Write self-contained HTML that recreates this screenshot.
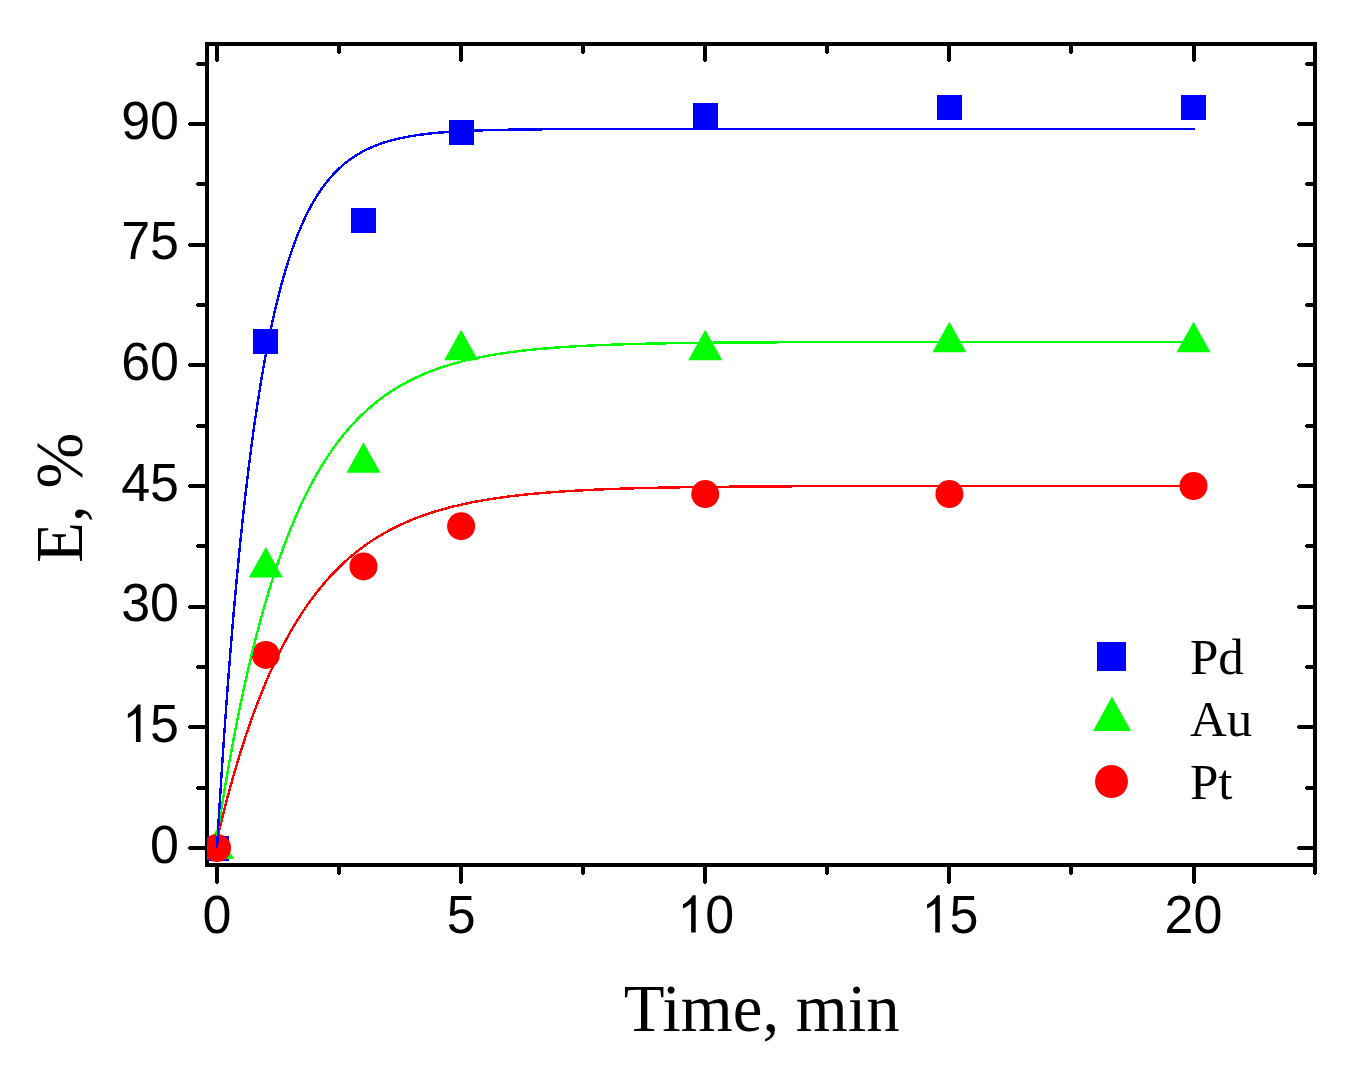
<!DOCTYPE html><html><head><meta charset="utf-8"><title>E vs Time</title><style>html,body{margin:0;padding:0;background:#fff;overflow:hidden}svg{display:block}</style></head><body>
<svg width="1370" height="1089" viewBox="0 0 1370 1089">
<rect width="1370" height="1089" fill="#fff"/>
<defs><clipPath id="c"><rect x="207" y="44" width="1108" height="821"/></clipPath></defs>
<g fill="#000">
<rect x="205" y="42" width="1112" height="4"/>
<rect x="205" y="863" width="1112" height="4"/>
<rect x="205" y="42" width="4" height="825"/>
<rect x="1313" y="42" width="4" height="825"/>
<rect x="215" y="865" width="4" height="18"/><rect x="216" y="883" width="2" height="1"/>
<rect x="215" y="44" width="4" height="17"/><rect x="216" y="61" width="2" height="1"/>
<rect x="459" y="865" width="4" height="18"/><rect x="460" y="883" width="2" height="1"/>
<rect x="459" y="44" width="4" height="17"/><rect x="460" y="61" width="2" height="1"/>
<rect x="703" y="865" width="4" height="18"/><rect x="704" y="883" width="2" height="1"/>
<rect x="703" y="44" width="4" height="17"/><rect x="704" y="61" width="2" height="1"/>
<rect x="947" y="865" width="4" height="18"/><rect x="948" y="883" width="2" height="1"/>
<rect x="947" y="44" width="4" height="17"/><rect x="948" y="61" width="2" height="1"/>
<rect x="1192" y="865" width="4" height="18"/><rect x="1193" y="883" width="2" height="1"/>
<rect x="1192" y="44" width="4" height="17"/><rect x="1193" y="61" width="2" height="1"/>
<rect x="337" y="865" width="4" height="9"/><rect x="338" y="874" width="2" height="1"/>
<rect x="337" y="44" width="4" height="9"/><rect x="338" y="53" width="2" height="1"/>
<rect x="581" y="865" width="4" height="9"/><rect x="582" y="874" width="2" height="1"/>
<rect x="581" y="44" width="4" height="9"/><rect x="582" y="53" width="2" height="1"/>
<rect x="825" y="865" width="4" height="9"/><rect x="826" y="874" width="2" height="1"/>
<rect x="825" y="44" width="4" height="9"/><rect x="826" y="53" width="2" height="1"/>
<rect x="1069" y="865" width="4" height="9"/><rect x="1070" y="874" width="2" height="1"/>
<rect x="1069" y="44" width="4" height="9"/><rect x="1070" y="53" width="2" height="1"/>
<rect x="1313" y="865" width="4" height="9"/><rect x="1314" y="874" width="2" height="1"/>
<rect x="1313" y="44" width="4" height="9"/><rect x="1314" y="53" width="2" height="1"/>
<rect x="189" y="846" width="18" height="4"/><rect x="188" y="847" width="1" height="2"/>
<rect x="1298" y="846" width="17" height="4"/><rect x="1297" y="847" width="1" height="2"/>
<rect x="189" y="725" width="18" height="4"/><rect x="188" y="726" width="1" height="2"/>
<rect x="1298" y="725" width="17" height="4"/><rect x="1297" y="726" width="1" height="2"/>
<rect x="189" y="605" width="18" height="4"/><rect x="188" y="606" width="1" height="2"/>
<rect x="1298" y="605" width="17" height="4"/><rect x="1297" y="606" width="1" height="2"/>
<rect x="189" y="484" width="18" height="4"/><rect x="188" y="485" width="1" height="2"/>
<rect x="1298" y="484" width="17" height="4"/><rect x="1297" y="485" width="1" height="2"/>
<rect x="189" y="363" width="18" height="4"/><rect x="188" y="364" width="1" height="2"/>
<rect x="1298" y="363" width="17" height="4"/><rect x="1297" y="364" width="1" height="2"/>
<rect x="189" y="243" width="18" height="4"/><rect x="188" y="244" width="1" height="2"/>
<rect x="1298" y="243" width="17" height="4"/><rect x="1297" y="244" width="1" height="2"/>
<rect x="189" y="122" width="18" height="4"/><rect x="188" y="123" width="1" height="2"/>
<rect x="1298" y="122" width="17" height="4"/><rect x="1297" y="123" width="1" height="2"/>
<rect x="197" y="786" width="10" height="4"/><rect x="196" y="787" width="1" height="2"/>
<rect x="1306" y="786" width="9" height="4"/><rect x="1305" y="787" width="1" height="2"/>
<rect x="197" y="665" width="10" height="4"/><rect x="196" y="666" width="1" height="2"/>
<rect x="1306" y="665" width="9" height="4"/><rect x="1305" y="666" width="1" height="2"/>
<rect x="197" y="544" width="10" height="4"/><rect x="196" y="545" width="1" height="2"/>
<rect x="1306" y="544" width="9" height="4"/><rect x="1305" y="545" width="1" height="2"/>
<rect x="197" y="424" width="10" height="4"/><rect x="196" y="425" width="1" height="2"/>
<rect x="1306" y="424" width="9" height="4"/><rect x="1305" y="425" width="1" height="2"/>
<rect x="197" y="303" width="10" height="4"/><rect x="196" y="304" width="1" height="2"/>
<rect x="1306" y="303" width="9" height="4"/><rect x="1305" y="304" width="1" height="2"/>
<rect x="197" y="182" width="10" height="4"/><rect x="196" y="183" width="1" height="2"/>
<rect x="1306" y="182" width="9" height="4"/><rect x="1305" y="183" width="1" height="2"/>
<rect x="197" y="62" width="10" height="4"/><rect x="196" y="63" width="1" height="2"/>
<rect x="1306" y="62" width="9" height="4"/><rect x="1305" y="63" width="1" height="2"/>
</g>
<g clip-path="url(#c)">
<rect x="204" y="836" width="25" height="25" fill="#0000ff"/>
<rect x="253" y="329" width="25" height="25" fill="#0000ff"/>
<rect x="351" y="208" width="25" height="25" fill="#0000ff"/>
<rect x="449" y="120" width="25" height="25" fill="#0000ff"/>
<rect x="693" y="103" width="25" height="25" fill="#0000ff"/>
<rect x="937" y="95" width="25" height="25" fill="#0000ff"/>
<rect x="1181" y="95" width="25" height="25" fill="#0000ff"/>
<polygon points="217.00,828.50 234.00,859.00 200.00,859.00" fill="#00ff00"/>
<polygon points="265.82,546.95 282.82,577.45 248.82,577.45" fill="#00ff00"/>
<polygon points="363.48,442.37 380.48,472.87 346.48,472.87" fill="#00ff00"/>
<polygon points="461.12,329.75 478.12,360.25 444.12,360.25" fill="#00ff00"/>
<polygon points="705.25,329.75 722.25,360.25 688.25,360.25" fill="#00ff00"/>
<polygon points="949.38,321.70 966.38,352.20 932.38,352.20" fill="#00ff00"/>
<polygon points="1193.50,321.70 1210.50,352.20 1176.50,352.20" fill="#00ff00"/>
<circle cx="217.00" cy="848.00" r="14" fill="#ff0000"/>
<circle cx="265.82" cy="654.93" r="14" fill="#ff0000"/>
<circle cx="363.48" cy="566.45" r="14" fill="#ff0000"/>
<circle cx="461.12" cy="526.22" r="14" fill="#ff0000"/>
<circle cx="705.25" cy="494.05" r="14" fill="#ff0000"/>
<circle cx="949.38" cy="494.05" r="14" fill="#ff0000"/>
<circle cx="1193.50" cy="486.00" r="14" fill="#ff0000"/>
</g>
<g clip-path="url(#c)" fill="none" stroke-width="2.4" stroke-linejoin="round" shape-rendering="crispEdges">
<polyline stroke="#ff0000" points="217.00,839.35 219.44,829.10 221.89,819.15 224.33,809.49 226.78,800.11 229.22,791.00 231.67,782.15 234.11,773.56 236.56,765.22 239.00,757.12 241.45,749.26 243.89,741.62 246.34,734.21 248.78,727.01 251.23,720.02 253.67,713.23 256.12,706.64 258.56,700.24 261.01,694.03 263.45,687.99 265.90,682.13 268.34,676.44 270.79,670.92 273.23,665.56 275.68,660.35 278.12,655.29 280.57,650.38 283.01,645.61 285.46,640.98 287.90,636.49 290.35,632.12 292.79,627.88 295.24,623.77 297.68,619.77 300.13,615.89 302.57,612.12 305.02,608.46 307.46,604.91 309.91,601.46 312.35,598.11 314.80,594.86 317.24,591.70 319.69,588.64 322.13,585.66 324.58,582.77 327.02,579.96 329.47,577.23 331.91,574.59 334.36,572.02 336.80,569.52 339.25,567.10 341.69,564.74 344.14,562.46 346.58,560.24 349.03,558.09 351.47,556.00 353.92,553.96 356.36,551.99 358.80,550.08 361.25,548.22 363.69,546.41 366.14,544.66 368.58,542.96 371.03,541.30 373.47,539.70 375.92,538.14 378.36,536.63 380.81,535.16 383.25,533.73 385.70,532.35 388.14,531.00 390.59,529.70 393.03,528.43 395.48,527.20 397.92,526.00 400.37,524.84 402.81,523.71 405.26,522.62 407.70,521.55 410.15,520.52 412.59,519.52 415.04,518.55 417.48,517.60 419.93,516.68 422.37,515.79 424.82,514.93 427.26,514.09 429.71,513.27 432.15,512.48 434.60,511.71 437.04,510.96 439.49,510.24 441.93,509.53 444.38,508.85 446.82,508.19 449.27,507.54 451.71,506.92 454.16,506.31 456.60,505.72 459.05,505.15 461.49,504.59 463.94,504.05 466.38,503.53 468.83,503.02 471.27,502.52 473.72,502.04 476.16,501.57 478.61,501.12 481.05,500.68 483.50,500.26 485.94,499.84 488.39,499.44 490.83,499.05 493.28,498.67 495.72,498.30 498.16,497.94 500.61,497.59 503.05,497.26 505.50,496.93 507.94,496.61 510.39,496.30 512.83,496.00 515.28,495.71 517.72,495.43 520.17,495.15 522.61,494.89 525.06,494.63 527.50,494.38 529.95,494.13 532.39,493.90 534.84,493.67 537.28,493.44 539.73,493.23 542.17,493.02 544.62,492.81 547.06,492.61 549.51,492.42 551.95,492.23 554.40,492.05 556.84,491.87 559.29,491.70 561.73,491.54 564.18,491.37 566.62,491.22 569.07,491.06 571.51,490.92 573.96,490.77 576.40,490.63 578.85,490.50 581.29,490.37 583.74,490.24 586.18,490.11 588.63,489.99 591.07,489.88 593.52,489.76 595.96,489.65 598.41,489.55 600.85,489.44 603.30,489.34 605.74,489.24 608.19,489.15 610.63,489.06 613.08,488.97 615.52,488.88 617.97,488.79 620.41,488.71 622.86,488.63 625.30,488.56 627.75,488.48 630.19,488.41 632.64,488.34 635.08,488.27 637.52,488.20 639.97,488.14 642.41,488.07 644.86,488.01 647.30,487.95 649.75,487.89 652.19,487.84 654.64,487.78 657.08,487.73 659.53,487.68 661.97,487.63 664.42,487.58 666.86,487.53 669.31,487.49 671.75,487.44 674.20,487.40 676.64,487.36 679.09,487.32 681.53,487.28 683.98,487.24 686.42,487.20 688.87,487.17 691.31,487.13 693.76,487.10 696.20,487.07 698.65,487.03 701.09,487.00 703.54,486.97 705.98,486.94 708.43,486.92 710.87,486.89 713.32,486.86 715.76,486.83 718.21,486.81 720.65,486.78 723.10,486.76 725.54,486.74 727.99,486.72 730.43,486.69 732.88,486.67 735.32,486.65 737.77,486.63 740.21,486.61 742.66,486.59 745.10,486.57 747.55,486.56 749.99,486.54 752.44,486.52 754.88,486.51 757.33,486.49 759.77,486.48 762.22,486.46 764.66,486.45 767.11,486.43 769.55,486.42 771.99,486.41 774.44,486.39 776.88,486.38 779.33,486.37 781.77,486.36 784.22,486.34 786.66,486.33 789.11,486.32 791.55,486.31 794.00,486.30 796.44,486.29 798.89,486.28 801.33,486.27 803.78,486.26 806.22,486.26 808.67,486.25 811.11,486.24 813.56,486.23 816.00,486.22 818.45,486.22 820.89,486.21 823.34,486.20 825.78,486.19 828.23,486.19 830.67,486.18 833.12,486.17 835.56,486.17 838.01,486.16 840.45,486.16 842.90,486.15 845.34,486.15 847.79,486.14 850.23,486.13 852.68,486.13 855.12,486.12 857.57,486.12 860.01,486.12 862.46,486.11 864.90,486.11 867.35,486.10 869.79,486.10 872.24,486.09 874.68,486.09 877.13,486.09 879.57,486.08 882.02,486.08 884.46,486.08 886.91,486.07 889.35,486.07 891.80,486.07 894.24,486.06 896.69,486.06 899.13,486.06 901.58,486.06 904.02,486.05 906.47,486.05 908.91,486.05 911.35,486.04 913.80,486.04 916.24,486.04 918.69,486.04 921.13,486.04 923.58,486.03 926.02,486.03 928.47,486.03 930.91,486.03 933.36,486.03 935.80,486.02 938.25,486.02 940.69,486.02 943.14,486.02 945.58,486.02 948.03,486.02 950.47,486.01 952.92,486.01 955.36,486.01 957.81,486.01 960.25,486.01 962.70,486.01 965.14,486.01 967.59,486.00 970.03,486.00 972.48,486.00 974.92,486.00 977.37,486.00 979.81,486.00 982.26,486.00 984.70,486.00 987.15,486.00 989.59,485.99 992.04,485.99 994.48,485.99 996.93,485.99 999.37,485.99 1001.82,485.99 1004.26,485.99 1006.71,485.99 1009.15,485.99 1011.60,485.99 1014.04,485.99 1016.49,485.99 1018.93,485.98 1021.38,485.98 1023.82,485.98 1026.27,485.98 1028.71,485.98 1031.16,485.98 1033.60,485.98 1036.05,485.98 1038.49,485.98 1040.94,485.98 1043.38,485.98 1045.83,485.98 1048.27,485.98 1050.71,485.98 1053.16,485.98 1055.60,485.98 1058.05,485.98 1060.49,485.98 1062.94,485.98 1065.38,485.97 1067.83,485.97 1070.27,485.97 1072.72,485.97 1075.16,485.97 1077.61,485.97 1080.05,485.97 1082.50,485.97 1084.94,485.97 1087.39,485.97 1089.83,485.97 1092.28,485.97 1094.72,485.97 1097.17,485.97 1099.61,485.97 1102.06,485.97 1104.50,485.97 1106.95,485.97 1109.39,485.97 1111.84,485.97 1114.28,485.97 1116.73,485.97 1119.17,485.97 1121.62,485.97 1124.06,485.97 1126.51,485.97 1128.95,485.97 1131.40,485.97 1133.84,485.97 1136.29,485.97 1138.73,485.97 1141.18,485.97 1143.62,485.97 1146.07,485.97 1148.51,485.97 1150.96,485.97 1153.40,485.97 1155.85,485.97 1158.29,485.97 1160.74,485.97 1163.18,485.97 1165.63,485.97 1168.07,485.97 1170.52,485.97 1172.96,485.97 1175.41,485.97 1177.85,485.97 1180.30,485.97 1182.74,485.96 1185.19,485.96 1187.63,485.96 1190.07,485.96 1192.52,485.96 1194.96,485.96"/>
<polyline stroke="#00ff00" points="217.00,836.78 219.44,821.03 221.89,805.79 224.33,791.03 226.78,776.74 229.22,762.90 231.67,749.50 234.11,736.54 236.56,723.98 239.00,711.82 241.45,700.05 243.89,688.66 246.34,677.63 248.78,666.94 251.23,656.60 253.67,646.59 256.12,636.90 258.56,627.51 261.01,618.42 263.45,609.63 265.90,601.11 268.34,592.86 270.79,584.88 273.23,577.15 275.68,569.67 278.12,562.42 280.57,555.41 283.01,548.61 285.46,542.04 287.90,535.67 290.35,529.51 292.79,523.54 295.24,517.76 297.68,512.17 300.13,506.76 302.57,501.51 305.02,496.44 307.46,491.52 309.91,486.76 312.35,482.16 314.80,477.70 317.24,473.38 319.69,469.20 322.13,465.15 324.58,461.23 327.02,457.43 329.47,453.76 331.91,450.20 334.36,446.76 336.80,443.43 339.25,440.20 341.69,437.07 344.14,434.05 346.58,431.12 349.03,428.28 351.47,425.54 353.92,422.88 356.36,420.30 358.80,417.81 361.25,415.40 363.69,413.06 366.14,410.80 368.58,408.61 371.03,406.49 373.47,404.44 375.92,402.45 378.36,400.53 380.81,398.67 383.25,396.86 385.70,395.12 388.14,393.43 390.59,391.79 393.03,390.21 395.48,388.67 397.92,387.19 400.37,385.75 402.81,384.36 405.26,383.01 407.70,381.71 410.15,380.44 412.59,379.22 415.04,378.03 417.48,376.89 419.93,375.78 422.37,374.70 424.82,373.66 427.26,372.65 429.71,371.68 432.15,370.74 434.60,369.82 437.04,368.94 439.49,368.08 441.93,367.25 444.38,366.45 446.82,365.67 449.27,364.91 451.71,364.19 454.16,363.48 456.60,362.80 459.05,362.13 461.49,361.49 463.94,360.87 466.38,360.27 468.83,359.69 471.27,359.13 473.72,358.58 476.16,358.06 478.61,357.55 481.05,357.05 483.50,356.57 485.94,356.11 488.39,355.66 490.83,355.23 493.28,354.81 495.72,354.40 498.16,354.00 500.61,353.62 503.05,353.25 505.50,352.89 507.94,352.55 510.39,352.21 512.83,351.89 515.28,351.57 517.72,351.27 520.17,350.97 522.61,350.69 525.06,350.41 527.50,350.14 529.95,349.89 532.39,349.63 534.84,349.39 537.28,349.16 539.73,348.93 542.17,348.71 544.62,348.50 547.06,348.29 549.51,348.09 551.95,347.90 554.40,347.71 556.84,347.53 559.29,347.35 561.73,347.18 564.18,347.02 566.62,346.86 569.07,346.70 571.51,346.55 573.96,346.41 576.40,346.27 578.85,346.13 581.29,346.00 583.74,345.87 586.18,345.75 588.63,345.63 591.07,345.52 593.52,345.41 595.96,345.30 598.41,345.19 600.85,345.09 603.30,344.99 605.74,344.90 608.19,344.81 610.63,344.72 613.08,344.63 615.52,344.55 617.97,344.47 620.41,344.39 622.86,344.31 625.30,344.24 627.75,344.17 630.19,344.10 632.64,344.03 635.08,343.97 637.52,343.91 639.97,343.85 642.41,343.79 644.86,343.73 647.30,343.68 649.75,343.62 652.19,343.57 654.64,343.52 657.08,343.47 659.53,343.43 661.97,343.38 664.42,343.34 666.86,343.29 669.31,343.25 671.75,343.21 674.20,343.18 676.64,343.14 679.09,343.10 681.53,343.07 683.98,343.03 686.42,343.00 688.87,342.97 691.31,342.94 693.76,342.91 696.20,342.88 698.65,342.85 701.09,342.83 703.54,342.80 705.98,342.77 708.43,342.75 710.87,342.73 713.32,342.70 715.76,342.68 718.21,342.66 720.65,342.64 723.10,342.62 725.54,342.60 727.99,342.58 730.43,342.56 732.88,342.54 735.32,342.53 737.77,342.51 740.21,342.50 742.66,342.48 745.10,342.46 747.55,342.45 749.99,342.44 752.44,342.42 754.88,342.41 757.33,342.40 759.77,342.38 762.22,342.37 764.66,342.36 767.11,342.35 769.55,342.34 771.99,342.33 774.44,342.32 776.88,342.31 779.33,342.30 781.77,342.29 784.22,342.28 786.66,342.27 789.11,342.26 791.55,342.25 794.00,342.25 796.44,342.24 798.89,342.23 801.33,342.22 803.78,342.22 806.22,342.21 808.67,342.20 811.11,342.20 813.56,342.19 816.00,342.19 818.45,342.18 820.89,342.18 823.34,342.17 825.78,342.16 828.23,342.16 830.67,342.15 833.12,342.15 835.56,342.15 838.01,342.14 840.45,342.14 842.90,342.13 845.34,342.13 847.79,342.12 850.23,342.12 852.68,342.12 855.12,342.11 857.57,342.11 860.01,342.11 862.46,342.10 864.90,342.10 867.35,342.10 869.79,342.10 872.24,342.09 874.68,342.09 877.13,342.09 879.57,342.08 882.02,342.08 884.46,342.08 886.91,342.08 889.35,342.08 891.80,342.07 894.24,342.07 896.69,342.07 899.13,342.07 901.58,342.06 904.02,342.06 906.47,342.06 908.91,342.06 911.35,342.06 913.80,342.06 916.24,342.05 918.69,342.05 921.13,342.05 923.58,342.05 926.02,342.05 928.47,342.05 930.91,342.05 933.36,342.05 935.80,342.04 938.25,342.04 940.69,342.04 943.14,342.04 945.58,342.04 948.03,342.04 950.47,342.04 952.92,342.04 955.36,342.04 957.81,342.03 960.25,342.03 962.70,342.03 965.14,342.03 967.59,342.03 970.03,342.03 972.48,342.03 974.92,342.03 977.37,342.03 979.81,342.03 982.26,342.03 984.70,342.03 987.15,342.03 989.59,342.03 992.04,342.02 994.48,342.02 996.93,342.02 999.37,342.02 1001.82,342.02 1004.26,342.02 1006.71,342.02 1009.15,342.02 1011.60,342.02 1014.04,342.02 1016.49,342.02 1018.93,342.02 1021.38,342.02 1023.82,342.02 1026.27,342.02 1028.71,342.02 1031.16,342.02 1033.60,342.02 1036.05,342.02 1038.49,342.02 1040.94,342.02 1043.38,342.02 1045.83,342.02 1048.27,342.02 1050.71,342.02 1053.16,342.02 1055.60,342.01 1058.05,342.01 1060.49,342.01 1062.94,342.01 1065.38,342.01 1067.83,342.01 1070.27,342.01 1072.72,342.01 1075.16,342.01 1077.61,342.01 1080.05,342.01 1082.50,342.01 1084.94,342.01 1087.39,342.01 1089.83,342.01 1092.28,342.01 1094.72,342.01 1097.17,342.01 1099.61,342.01 1102.06,342.01 1104.50,342.01 1106.95,342.01 1109.39,342.01 1111.84,342.01 1114.28,342.01 1116.73,342.01 1119.17,342.01 1121.62,342.01 1124.06,342.01 1126.51,342.01 1128.95,342.01 1131.40,342.01 1133.84,342.01 1136.29,342.01 1138.73,342.01 1141.18,342.01 1143.62,342.01 1146.07,342.01 1148.51,342.01 1150.96,342.01 1153.40,342.01 1155.85,342.01 1158.29,342.01 1160.74,342.01 1163.18,342.01 1165.63,342.01 1168.07,342.01 1170.52,342.01 1172.96,342.01 1175.41,342.01 1177.85,342.01 1180.30,342.01 1182.74,342.01 1185.19,342.01 1187.63,342.01 1190.07,342.01 1192.52,342.01 1194.96,342.01"/>
<polyline stroke="#0000ff" points="217.00,848.00 219.44,807.42 221.89,769.14 224.33,733.01 226.78,698.93 229.22,666.77 231.67,636.42 234.11,607.78 236.56,580.76 239.00,555.27 241.45,531.21 243.89,508.51 246.34,487.10 248.78,466.89 251.23,447.82 253.67,429.83 256.12,412.85 258.56,396.83 261.01,381.72 263.45,367.46 265.90,354.00 268.34,341.30 270.79,329.32 273.23,318.02 275.68,307.35 278.12,297.28 280.57,287.79 283.01,278.82 285.46,270.37 287.90,262.39 290.35,254.86 292.79,247.76 295.24,241.06 297.68,234.73 300.13,228.77 302.57,223.14 305.02,217.82 307.46,212.81 309.91,208.08 312.35,203.62 314.80,199.41 317.24,195.43 319.69,191.68 322.13,188.14 324.58,184.81 327.02,181.66 329.47,178.68 331.91,175.88 334.36,173.23 336.80,170.74 339.25,168.38 341.69,166.16 344.14,164.06 346.58,162.08 349.03,160.22 351.47,158.45 353.92,156.79 356.36,155.22 358.80,153.74 361.25,152.34 363.69,151.03 366.14,149.78 368.58,148.61 371.03,147.50 373.47,146.46 375.92,145.47 378.36,144.54 380.81,143.67 383.25,142.84 385.70,142.06 388.14,141.32 390.59,140.62 393.03,139.97 395.48,139.35 397.92,138.76 400.37,138.21 402.81,137.69 405.26,137.20 407.70,136.74 410.15,136.30 412.59,135.89 415.04,135.50 417.48,135.13 419.93,134.78 422.37,134.46 424.82,134.15 427.26,133.86 429.71,133.58 432.15,133.32 434.60,133.08 437.04,132.85 439.49,132.63 441.93,132.43 444.38,132.23 446.82,132.05 449.27,131.88 451.71,131.71 454.16,131.56 456.60,131.42 459.05,131.28 461.49,131.15 463.94,131.03 466.38,130.91 468.83,130.80 471.27,130.70 473.72,130.61 476.16,130.51 478.61,130.43 481.05,130.35 483.50,130.27 485.94,130.20 488.39,130.13 490.83,130.07 493.28,130.01 495.72,129.95 498.16,129.89 500.61,129.84 503.05,129.80 505.50,129.75 507.94,129.71 510.39,129.67 512.83,129.63 515.28,129.59 517.72,129.56 520.17,129.53 522.61,129.50 525.06,129.47 527.50,129.44 529.95,129.42 532.39,129.39 534.84,129.37 537.28,129.35 539.73,129.33 542.17,129.31 544.62,129.29 547.06,129.27 549.51,129.26 551.95,129.24 554.40,129.23 556.84,129.22 559.29,129.20 561.73,129.19 564.18,129.18 566.62,129.17 569.07,129.16 571.51,129.15 573.96,129.14 576.40,129.13 578.85,129.12 581.29,129.12 583.74,129.11 586.18,129.10 588.63,129.10 591.07,129.09 593.52,129.09 595.96,129.08 598.41,129.07 600.85,129.07 603.30,129.07 605.74,129.06 608.19,129.06 610.63,129.05 613.08,129.05 615.52,129.05 617.97,129.04 620.41,129.04 622.86,129.04 625.30,129.04 627.75,129.03 630.19,129.03 632.64,129.03 635.08,129.03 637.52,129.02 639.97,129.02 642.41,129.02 644.86,129.02 647.30,129.02 649.75,129.02 652.19,129.01 654.64,129.01 657.08,129.01 659.53,129.01 661.97,129.01 664.42,129.01 666.86,129.01 669.31,129.01 671.75,129.01 674.20,129.01 676.64,129.00 679.09,129.00 681.53,129.00 683.98,129.00 686.42,129.00 688.87,129.00 691.31,129.00 693.76,129.00 696.20,129.00 698.65,129.00 701.09,129.00 703.54,129.00 705.98,129.00 708.43,129.00 710.87,129.00 713.32,129.00 715.76,129.00 718.21,129.00 720.65,129.00 723.10,129.00 725.54,129.00 727.99,129.00 730.43,129.00 732.88,128.99 735.32,128.99 737.77,128.99 740.21,128.99 742.66,128.99 745.10,128.99 747.55,128.99 749.99,128.99 752.44,128.99 754.88,128.99 757.33,128.99 759.77,128.99 762.22,128.99 764.66,128.99 767.11,128.99 769.55,128.99 771.99,128.99 774.44,128.99 776.88,128.99 779.33,128.99 781.77,128.99 784.22,128.99 786.66,128.99 789.11,128.99 791.55,128.99 794.00,128.99 796.44,128.99 798.89,128.99 801.33,128.99 803.78,128.99 806.22,128.99 808.67,128.99 811.11,128.99 813.56,128.99 816.00,128.99 818.45,128.99 820.89,128.99 823.34,128.99 825.78,128.99 828.23,128.99 830.67,128.99 833.12,128.99 835.56,128.99 838.01,128.99 840.45,128.99 842.90,128.99 845.34,128.99 847.79,128.99 850.23,128.99 852.68,128.99 855.12,128.99 857.57,128.99 860.01,128.99 862.46,128.99 864.90,128.99 867.35,128.99 869.79,128.99 872.24,128.99 874.68,128.99 877.13,128.99 879.57,128.99 882.02,128.99 884.46,128.99 886.91,128.99 889.35,128.99 891.80,128.99 894.24,128.99 896.69,128.99 899.13,128.99 901.58,128.99 904.02,128.99 906.47,128.99 908.91,128.99 911.35,128.99 913.80,128.99 916.24,128.99 918.69,128.99 921.13,128.99 923.58,128.99 926.02,128.99 928.47,128.99 930.91,128.99 933.36,128.99 935.80,128.99 938.25,128.99 940.69,128.99 943.14,128.99 945.58,128.99 948.03,128.99 950.47,128.99 952.92,128.99 955.36,128.99 957.81,128.99 960.25,128.99 962.70,128.99 965.14,128.99 967.59,128.99 970.03,128.99 972.48,128.99 974.92,128.99 977.37,128.99 979.81,128.99 982.26,128.99 984.70,128.99 987.15,128.99 989.59,128.99 992.04,128.99 994.48,128.99 996.93,128.99 999.37,128.99 1001.82,128.99 1004.26,128.99 1006.71,128.99 1009.15,128.99 1011.60,128.99 1014.04,128.99 1016.49,128.99 1018.93,128.99 1021.38,128.99 1023.82,128.99 1026.27,128.99 1028.71,128.99 1031.16,128.99 1033.60,128.99 1036.05,128.99 1038.49,128.99 1040.94,128.99 1043.38,128.99 1045.83,128.99 1048.27,128.99 1050.71,128.99 1053.16,128.99 1055.60,128.99 1058.05,128.99 1060.49,128.99 1062.94,128.99 1065.38,128.99 1067.83,128.99 1070.27,128.99 1072.72,128.99 1075.16,128.99 1077.61,128.99 1080.05,128.99 1082.50,128.99 1084.94,128.99 1087.39,128.99 1089.83,128.99 1092.28,128.99 1094.72,128.99 1097.17,128.99 1099.61,128.99 1102.06,128.99 1104.50,128.99 1106.95,128.99 1109.39,128.99 1111.84,128.99 1114.28,128.99 1116.73,128.99 1119.17,128.99 1121.62,128.99 1124.06,128.99 1126.51,128.99 1128.95,128.99 1131.40,128.99 1133.84,128.99 1136.29,128.99 1138.73,128.99 1141.18,128.99 1143.62,128.99 1146.07,128.99 1148.51,128.99 1150.96,128.99 1153.40,128.99 1155.85,128.99 1158.29,128.99 1160.74,128.99 1163.18,128.99 1165.63,128.99 1168.07,128.99 1170.52,128.99 1172.96,128.99 1175.41,128.99 1177.85,128.99 1180.30,128.99 1182.74,128.99 1185.19,128.99 1187.63,128.99 1190.07,128.99 1192.52,128.99 1194.96,128.99"/>
</g>
<g font-family="Liberation Sans, sans-serif" font-size="52" fill="#000">
<text transform="translate(150.08,862.60) scale(1,1.03)">0</text>
<path transform="translate(121.16,741.93) scale(0.02539,-0.02539)" d="M763,0L583,0L583,1140C535,1095 480,1058 413,1020C350,984 300,960 262,946L262,1110C350,1155 420,1205 487,1270C560,1340 612,1405 646,1472L763,1472Z"/><text transform="translate(150.08,741.93) scale(1,1.03)">5</text>
<text transform="translate(121.16,621.27) scale(1,1.03)">3</text><text transform="translate(150.08,621.27) scale(1,1.03)">0</text>
<text transform="translate(121.16,500.60) scale(1,1.03)">4</text><text transform="translate(150.08,500.60) scale(1,1.03)">5</text>
<text transform="translate(121.16,379.94) scale(1,1.03)">6</text><text transform="translate(150.08,379.94) scale(1,1.03)">0</text>
<text transform="translate(121.16,259.27) scale(1,1.03)">7</text><text transform="translate(150.08,259.27) scale(1,1.03)">5</text>
<text transform="translate(121.16,138.60) scale(1,1.03)">9</text><text transform="translate(150.08,138.60) scale(1,1.03)">0</text>
<text transform="translate(202.54,932.50) scale(1,1.03)">0</text>
<text transform="translate(446.67,932.50) scale(1,1.03)">5</text>
<path transform="translate(676.33,932.50) scale(0.02539,-0.02539)" d="M763,0L583,0L583,1140C535,1095 480,1058 413,1020C350,984 300,960 262,946L262,1110C350,1155 420,1205 487,1270C560,1340 612,1405 646,1472L763,1472Z"/><text transform="translate(705.25,932.50) scale(1,1.03)">0</text>
<path transform="translate(920.46,932.50) scale(0.02539,-0.02539)" d="M763,0L583,0L583,1140C535,1095 480,1058 413,1020C350,984 300,960 262,946L262,1110C350,1155 420,1205 487,1270C560,1340 612,1405 646,1472L763,1472Z"/><text transform="translate(949.38,932.50) scale(1,1.03)">5</text>
<text transform="translate(1164.58,932.50) scale(1,1.03)">2</text><text transform="translate(1193.50,932.50) scale(1,1.03)">0</text>
</g>
<text x="623.8" y="1031" font-family="Liberation Serif, serif" font-size="66.8" fill="#000">Time, min</text>
<text transform="translate(82,563) rotate(-90)" font-family="Liberation Serif, serif" font-size="67" fill="#000">E, %</text>
<rect x="1097" y="642" width="29" height="29" fill="#0000ff"/>
<polygon points="1112,696.5 1131,731 1093,731" fill="#00ff00"/>
<circle cx="1111.5" cy="781.5" r="16.5" fill="#ff0000"/>
<g font-family="Liberation Serif, serif" font-size="51" fill="#000">
<text x="1190" y="674">Pd</text>
<text x="1190" y="736">Au</text>
<text x="1190" y="799">Pt</text>
</g>
</svg></body></html>
